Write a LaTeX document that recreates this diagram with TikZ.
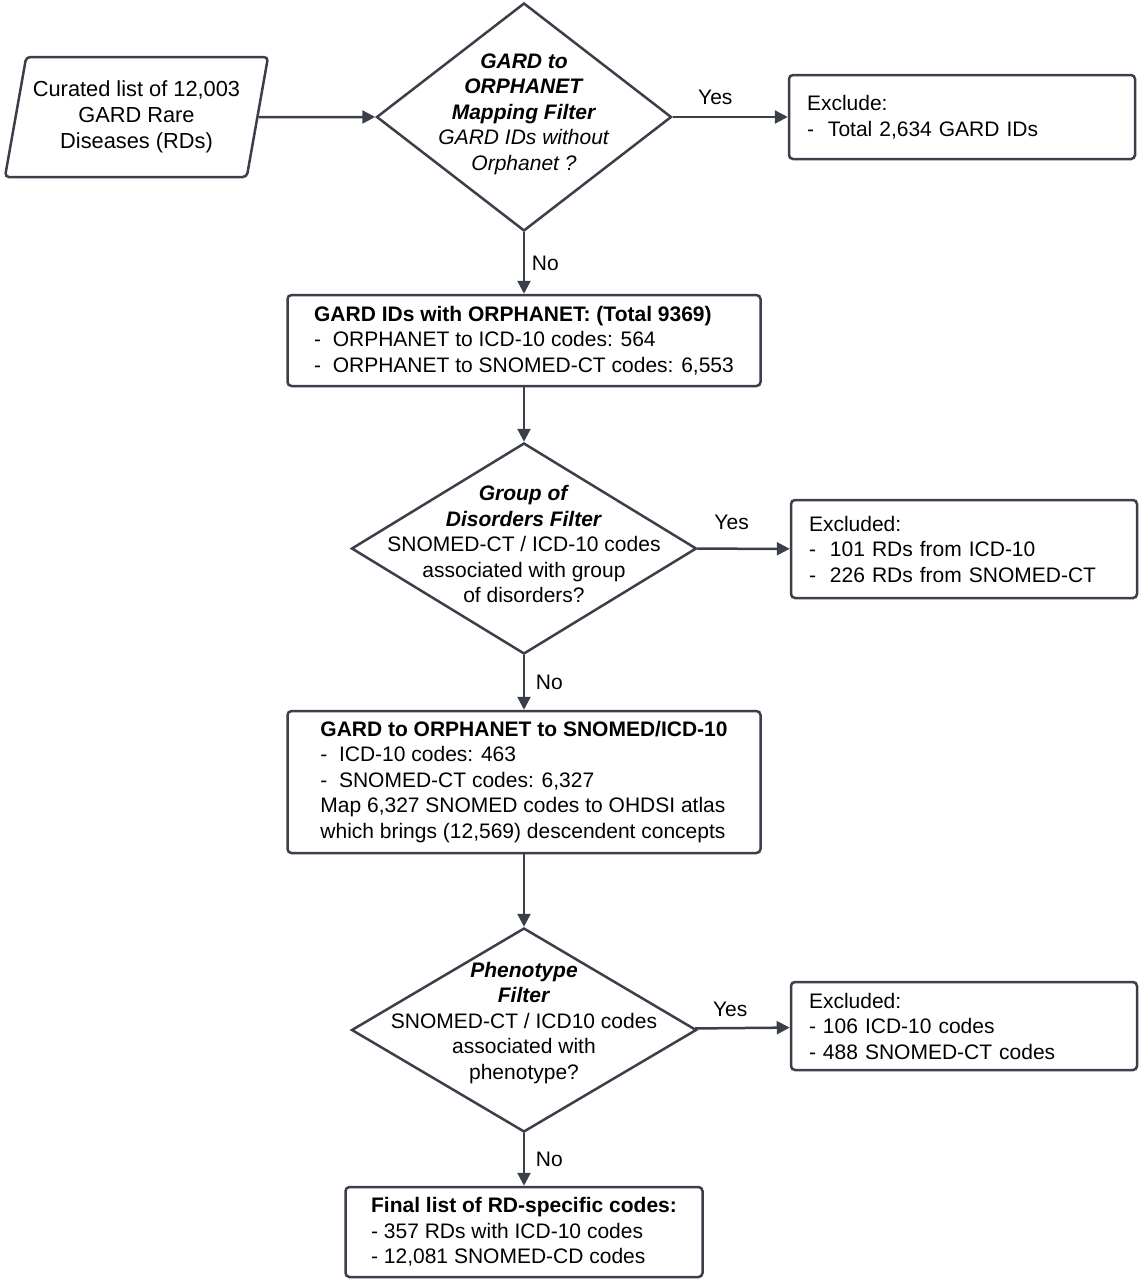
\documentclass[tikz,border=0pt]{standalone}
\usepackage{fontspec}
\setmainfont{Liberation Sans}
\usetikzlibrary{arrows.meta,shapes.geometric}
\definecolor{linegray}{HTML}{3B3F49}

\begin{document}
\begin{tikzpicture}[x=0.5pt,y=-0.5pt,>={Triangle[length=6.5pt,width=6.5pt]},line width=1.25pt]
    \tikzstyle{txt}=[font=\fontsize{10.5}{12.75}\selectfont]
    \tikzstyle{box}=[txt, draw=linegray, rounded corners=2pt, align=left, inner xsep=9pt]
    \tikzstyle{sidebox}=[box, text width=155pt, minimum width=173pt]
    \tikzstyle{gate}=[draw=linegray, shape=diamond, inner sep=0pt]
    \tikzstyle{gatetext}=[txt, align=center, inner sep=0pt]
    \tikzstyle{flow}=[draw=linegray, ->]

    \useasboundingbox (0,0) rectangle (1140,1280);

    \node[font=\fontsize{10.9}{12.9}\selectfont, draw=linegray, shape=trapezium, trapezium left angle=76, trapezium right angle=104,
          trapezium stretches=true, minimum width=131.5pt, minimum height=60pt,
          rounded corners=2pt, align=center] (src) at (136.5,117)
          {Curated list of 12,003\\GARD Rare\\Diseases (RDs)};

    \node[gate, minimum width=147.5pt, minimum height=114pt] (gard) at (524,117) {};
    \node[gatetext] (gardtext) at (524,114)
          {\textbf{\textit{GARD to}}\\\textbf{\textit{ORPHANET}}\\\textbf{\textit{Mapping Filter}}\\\textit{GARD IDs without}\\\textit{Orphanet ?}};
    \node[sidebox, minimum height=42pt] (excl1) at (962,117)
          {Exclude:\\-~~Total 2,634 GARD IDs};

    \node[box, minimum width=236.5pt, minimum height=45.5pt] (orpha) at (524,340.5)
          {\textbf{GARD IDs with ORPHANET: (Total 9369)}\\-~~ORPHANET to ICD-10 codes: 564\\-~~ORPHANET to SNOMED-CT codes: 6,553};

    \node[gate, minimum width=172.5pt, minimum height=105.5pt] (group) at (524,548.5) {};
    \node[gatetext] (grouptext) at (524,544)
          {\textbf{\textit{Group of}}\\\textbf{\textit{Disorders Filter}}\\SNOMED-CT / ICD-10 codes\\associated with group\\of disorders?};
    \node[sidebox, minimum height=49pt] (excl2) at (964,549)
          {Excluded:\\-~~101 RDs from ICD-10\\-~~226 RDs from SNOMED-CT};

    \node[box, minimum width=236.5pt, minimum height=71pt] (snomed) at (524,782)
          {\textbf{GARD to ORPHANET to SNOMED/ICD-10}\\-~~ICD-10 codes: 463\\-~~SNOMED-CT codes: 6,327\\Map 6,327 SNOMED codes to OHDSI atlas\\which brings (12,569) descendent concepts};

    \node[gate, minimum width=172.5pt, minimum height=102pt] (pheno) at (524,1030) {};
    \node[gatetext] (phenotext) at (524,1023)
          {\textbf{\textit{Phenotype}}\\\textbf{\textit{Filter}}\\SNOMED-CT / ICD10 codes\\associated with\\phenotype?};
    \node[sidebox, minimum height=44pt] (excl3) at (964,1026)
          {Excluded:\\- 106 ICD-10 codes\\- 488 SNOMED-CT codes};

    \node[box, minimum width=178.5pt, minimum height=45pt] (final) at (524,1232)
          {\textbf{Final list of RD-specific codes:}\\- 357 RDs with ICD-10 codes\\- 12,081 SNOMED-CD codes};

    \draw (src) edge[flow] (gard);
    \draw (gard) edge[flow] node[txt, pos=0.37, above, yshift=2pt] (yes1) {Yes} (excl1);
    \draw (gard) edge[flow] node[txt, right] (no1) {No} (orpha);
    \draw (orpha) edge[flow] (group);
    \draw (group) edge[flow] node[txt, pos=0.37, above, yshift=5.5pt] (yes2) {Yes} (excl2);
    \draw (group) edge[flow] node[txt, right, xshift=2pt] (no2) {No} (snomed);
    \draw (snomed) edge[flow] (pheno);
    \draw (pheno) edge[flow] node[txt, pos=0.37, above, yshift=2pt] (yes3) {Yes} (excl3);
    \draw (pheno) edge[flow] node[txt, right, xshift=2pt] (no3) {No} (final);
\end{tikzpicture}
\end{document}
